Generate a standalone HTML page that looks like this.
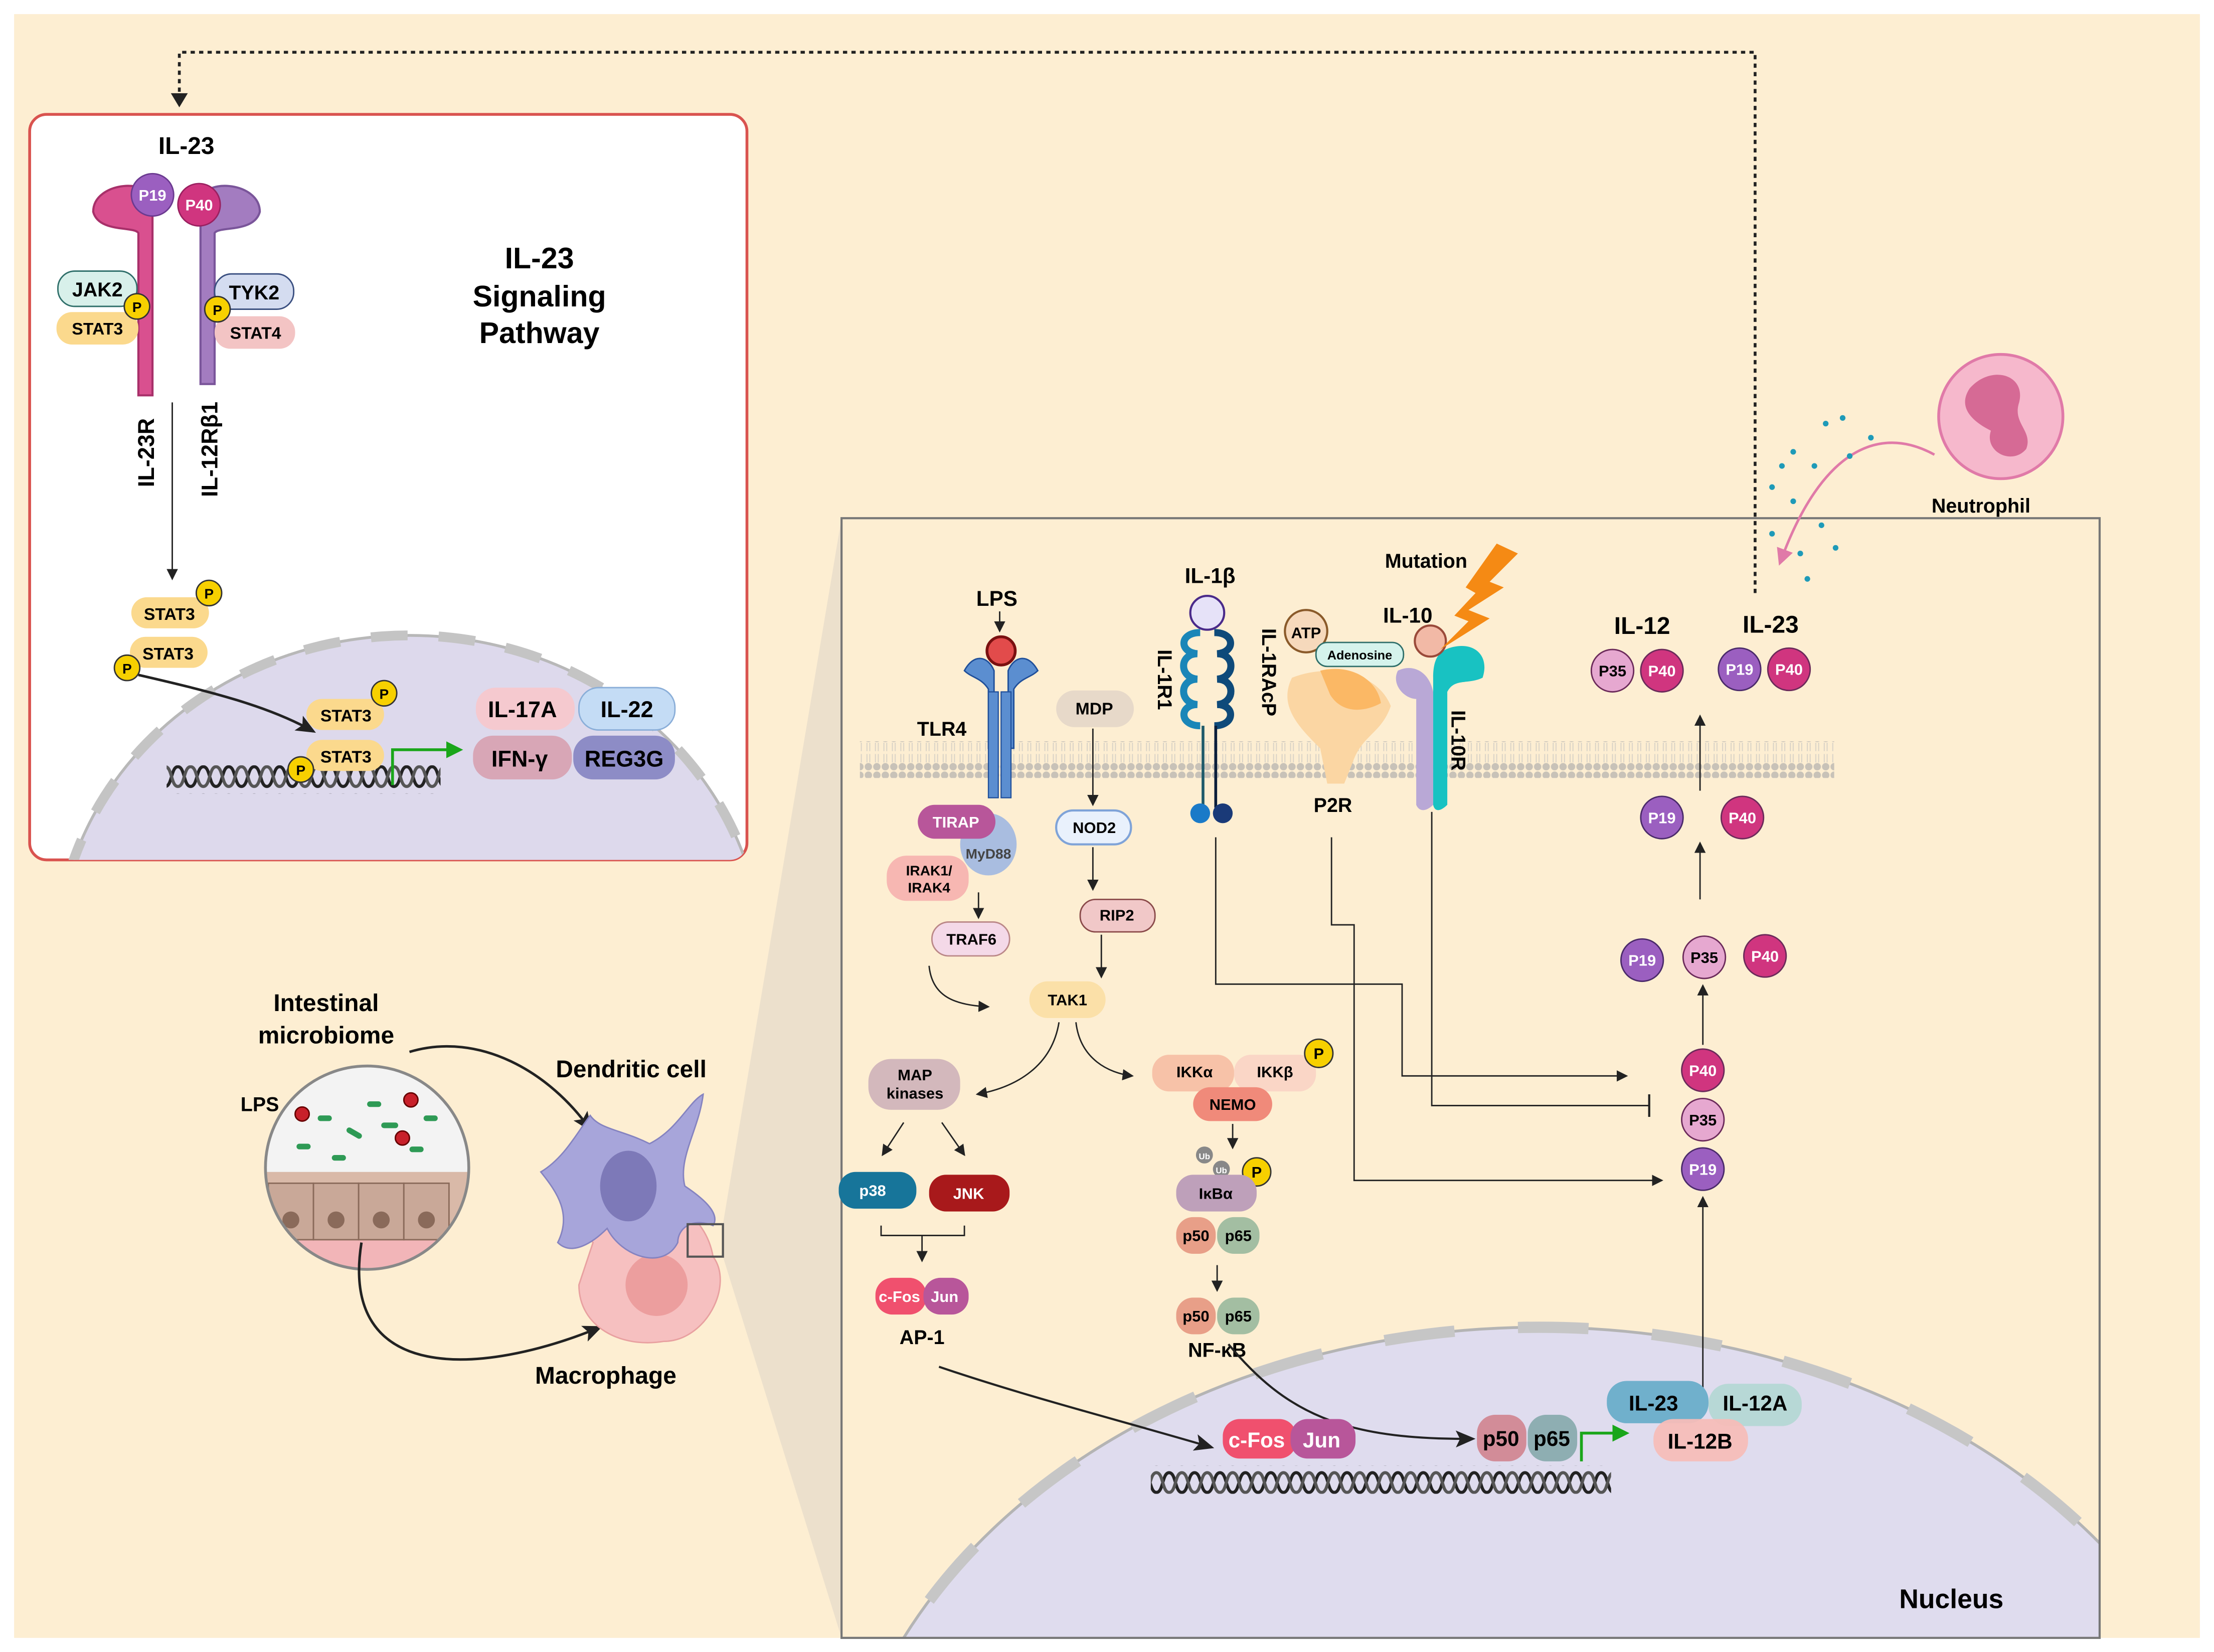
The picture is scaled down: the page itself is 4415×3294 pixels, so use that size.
<!DOCTYPE html>
<html><head><meta charset="utf-8"><style>
html,body{margin:0;padding:0;background:#fff;overflow:hidden;width:4415px;height:3294px;position:relative}
svg{display:block;position:absolute;left:0;top:0}
text{font-family:"Liberation Sans",sans-serif;font-weight:bold}
</style></head><body>
<svg width="4415" height="3294" viewBox="0 0 1568 1170" preserveAspectRatio="none" xmlns="http://www.w3.org/2000/svg" overflow="hidden">
<defs>
<pattern id="dna" width="18" height="20" patternUnits="userSpaceOnUse">
<path d="M0,3 C5,3 4,17 9,17 C14,17 13,3 18,3" fill="none" stroke="#222" stroke-width="2.2"/>
<path d="M0,17 C5,17 4,3 9,3 C14,3 13,17 18,17" fill="none" stroke="#555" stroke-width="2.2"/>
</pattern>
<pattern id="mem" width="6" height="26" patternUnits="userSpaceOnUse">
<circle cx="3" cy="3" r="2.6" fill="#c8c2b8"/><circle cx="3" cy="23" r="2.6" fill="#c8c2b8"/>
<path d="M2,6 L2,12 M4,6 L4,12 M2,14 L2,20 M4,14 L4,20" stroke="#d8d2c6" stroke-width="0.7"/>
</pattern>
<marker id="ah" markerWidth="8" markerHeight="8" refX="7" refY="4" orient="auto" markerUnits="userSpaceOnUse"><path d="M0,0 L8,4 L0,8z" fill="#222"/></marker>
<marker id="ahb" markerWidth="14" markerHeight="12" refX="12" refY="6" orient="auto" markerUnits="userSpaceOnUse"><path d="M0,0 L14,6 L0,12 L3,6z" fill="#222"/></marker>
<marker id="ahg" markerWidth="12" markerHeight="12" refX="6" refY="6" orient="auto" markerUnits="userSpaceOnUse"><path d="M0,0 L12,6 L0,12z" fill="#1aa61a"/></marker>
<marker id="ahp" markerWidth="12" markerHeight="12" refX="6" refY="6" orient="auto" markerUnits="userSpaceOnUse"><path d="M0,0 L12,6 L0,12z" fill="#e07aa8"/></marker>
<marker id="tbar" markerWidth="4" markerHeight="16" refX="2" refY="8" orient="auto" markerUnits="userSpaceOnUse"><path d="M2,0 L2,16" stroke="#222" stroke-width="1.5"/></marker>
<clipPath id="cTL"><rect x="21" y="81" width="508" height="528" rx="12"/></clipPath>
<clipPath id="cM"><rect x="596" y="367" width="891" height="793"/></clipPath>
<clipPath id="cMicro"><circle cx="260" cy="827" r="72"/></clipPath>
</defs>

<rect width="1568" height="1170" fill="#fff"/>
<rect x="10" y="10" width="1548" height="1150" fill="#fdeed2"/>

<polygon points="512,867 596,367 596,1160 512,890" fill="#ece0cc"/>

<rect x="21" y="81" width="508" height="528" rx="12" fill="#fff" stroke="#d9534f" stroke-width="2"/>
<g clip-path="url(#cTL)">
<ellipse cx="290" cy="680" rx="250" ry="230" fill="#ddd9ec" stroke="#b8b8b8" stroke-width="2"/>
<ellipse cx="290" cy="680" rx="250" ry="230" fill="none" stroke="#c4c4c4" stroke-width="7" stroke-dasharray="26,22"/>
<rect x="118" y="542" width="194" height="20" fill="url(#dna)"/>
</g>
<text x="132" y="109" font-size="17" text-anchor="middle">IL-23</text>
<text x="382" y="190" font-size="21" text-anchor="middle">IL-23</text>
<text x="382" y="217" font-size="21" text-anchor="middle">Signaling</text>
<text x="382" y="243" font-size="21" text-anchor="middle">Pathway</text>
<path d="M66,150 C66,128 110,125 108,145 L108,280 L98,280 L98,165 C95,160 70,165 66,150z" fill="#d9508f" stroke="#a8306a" stroke-width="1.5"/>
<path d="M184,150 C184,128 140,125 142,145 L142,272 L152,272 L152,165 C155,160 180,165 184,150z" fill="#a37cc0" stroke="#7a559a" stroke-width="1.5"/>
<circle cx="108" cy="138" r="15" fill="#9b5fc0" stroke="#6b3a90"/><text x="108" y="142" font-size="11" fill="#fff" text-anchor="middle" font-weight="normal">P19</text>
<circle cx="141" cy="145" r="15" fill="#d0357f" stroke="#9a2060"/><text x="141" y="149" font-size="11" fill="#fff" text-anchor="middle" font-weight="normal">P40</text>
<rect x="41" y="192" width="56" height="25" rx="12" fill="#d8f0ea" stroke="#2f6f6a"/><text x="69" y="210" font-size="14" text-anchor="middle" font-weight="normal">JAK2</text>
<rect x="40" y="221" width="58" height="23" rx="11" fill="#fbd98d"/><text x="69" y="237" font-size="12" text-anchor="middle">STAT3</text>
<circle cx="97" cy="217" r="9" fill="#f7d000" stroke="#333"/><text x="97" y="221" font-size="10" text-anchor="middle">P</text>
<rect x="152" y="194" width="56" height="25" rx="12" fill="#d4dcf0" stroke="#3a4f80"/><text x="180" y="212" font-size="14" text-anchor="middle" font-weight="normal">TYK2</text>
<rect x="152" y="224" width="57" height="23" rx="11" fill="#f3c4c4"/><text x="181" y="240" font-size="12" text-anchor="middle">STAT4</text>
<circle cx="154" cy="219" r="9" fill="#f7d000" stroke="#333"/><text x="154" y="223" font-size="10" text-anchor="middle">P</text>
<text transform="translate(109,345) rotate(-90)" font-size="16" font-weight="normal">IL-23R</text>
<text transform="translate(154,352) rotate(-90)" font-size="16" font-weight="normal">IL-12Rβ1</text>
<line x1="122" y1="285" x2="122" y2="410" stroke="#222" stroke-width="1" marker-end="url(#ah)"/>
<rect x="93" y="423" width="55" height="22" rx="11" fill="#fbd98d"/><text x="120" y="439" font-size="12" text-anchor="middle">STAT3</text>
<circle cx="148" cy="420" r="9" fill="#f7d000" stroke="#333"/><text x="148" y="424" font-size="10" text-anchor="middle">P</text>
<rect x="92" y="451" width="55" height="22" rx="11" fill="#fbd98d"/><text x="119" y="467" font-size="12" text-anchor="middle">STAT3</text>
<circle cx="90" cy="473" r="9" fill="#f7d000" stroke="#333"/><text x="90" y="477" font-size="10" text-anchor="middle">P</text>
<path d="M98,478 C150,490 190,500 222,518" fill="none" stroke="#222" stroke-width="1.8" marker-end="url(#ahb)"/>
<rect x="217" y="495" width="55" height="22" rx="11" fill="#fbd98d"/><text x="245" y="511" font-size="12" text-anchor="middle">STAT3</text>
<circle cx="272" cy="491" r="9" fill="#f7d000" stroke="#333"/><text x="272" y="495" font-size="10" text-anchor="middle">P</text>
<rect x="217" y="524" width="55" height="22" rx="11" fill="#fbd98d"/><text x="245" y="540" font-size="12" text-anchor="middle">STAT3</text>
<circle cx="213" cy="545" r="9" fill="#f7d000" stroke="#333"/><text x="213" y="549" font-size="10" text-anchor="middle">P</text>
<path d="M278,556 L278,531 L322,531" fill="none" stroke="#1aa61a" stroke-width="2" marker-end="url(#ahg)"/>
<rect x="337" y="487" width="70" height="30" rx="14" fill="#f5c9cf"/><text x="370" y="508" font-size="16" text-anchor="middle">IL-17A</text>
<rect x="410" y="487" width="68" height="30" rx="14" fill="#c4dcf5" stroke="#8aaed8"/><text x="444" y="508" font-size="16" text-anchor="middle">IL-22</text>
<rect x="335" y="521" width="70" height="31" rx="14" fill="#d8a6b6"/><text x="368" y="543" font-size="16" text-anchor="middle">IFN-γ</text>
<rect x="406" y="521" width="72" height="31" rx="14" fill="#8d8cc6"/><text x="442" y="543" font-size="16" text-anchor="middle">REG3G</text>

<text x="231" y="716" font-size="17" text-anchor="middle">Intestinal</text>
<text x="231" y="739" font-size="17" text-anchor="middle">microbiome</text>
<text x="184" y="787" font-size="14" text-anchor="middle">LPS</text>
<g clip-path="url(#cMicro)">
<circle cx="260" cy="827" r="72" fill="#f3f3f3"/>
<rect x="180" y="830" width="160" height="60" fill="#d9b9a8"/>
<rect x="180" y="878" width="160" height="30" fill="#f2b5b8"/>
<g fill="#c9a898" stroke="#8a6a5a" stroke-width="1"><rect x="190" y="838" width="32" height="40"/><rect x="222" y="838" width="32" height="40"/><rect x="254" y="838" width="32" height="40"/><rect x="286" y="838" width="32" height="40"/></g>
<g fill="#8a6a5a"><circle cx="206" cy="864" r="6"/><circle cx="238" cy="864" r="6"/><circle cx="270" cy="864" r="6"/><circle cx="302" cy="864" r="6"/></g>
<g fill="#2e9a55"><rect x="225" y="790" width="10" height="4" rx="2"/><rect x="245" y="800" width="12" height="4" rx="2" transform="rotate(30 250 802)"/><rect x="270" y="795" width="12" height="4" rx="2"/><rect x="210" y="810" width="10" height="4" rx="2"/><rect x="290" y="812" width="10" height="4" rx="2"/><rect x="260" y="780" width="10" height="4" rx="2"/><rect x="300" y="790" width="10" height="4" rx="2"/><rect x="235" y="818" width="10" height="4" rx="2"/></g>
</g>
<circle cx="260" cy="827" r="72" fill="none" stroke="#888" stroke-width="2"/>
<g fill="#c8202a" stroke="#600"><circle cx="214" cy="789" r="5"/><circle cx="291" cy="779" r="5"/><circle cx="285" cy="806" r="5"/></g>
<path d="M290,745 C340,730 390,760 418,800" fill="none" stroke="#222" stroke-width="1.8" marker-end="url(#ahb)"/>
<path d="M256,880 C240,980 340,975 425,940" fill="none" stroke="#222" stroke-width="1.8" marker-end="url(#ahb)"/>
<text x="447" y="763" font-size="17" text-anchor="middle">Dendritic cell</text>
<text x="429" y="980" font-size="17" text-anchor="middle">Macrophage</text>
<path d="M420,880 C400,860 410,840 440,850 C470,840 500,860 505,890 C520,910 500,950 470,950 C440,955 410,940 410,910z" fill="#f6c0c0" stroke="#e8a0a0"/>
<circle cx="465" cy="910" r="22" fill="#ec9e9e"/>
<path d="M383,830 C400,820 410,800 418,790 C425,800 440,800 460,810 C480,800 488,780 498,775 C495,800 480,820 485,840 C500,850 510,860 505,868 C490,862 480,870 480,880 C470,900 440,890 430,870 C420,880 405,890 395,880 C405,860 395,845 383,830z" fill="#a7a5da" stroke="#8583c0"/>
<ellipse cx="445" cy="840" rx="20" ry="25" fill="#7d79b8"/>
<rect x="487" y="867" width="25" height="23" fill="none" stroke="#555" stroke-width="1.5"/>

<rect x="596" y="367" width="891" height="793" fill="#fdeed2"/>
<g clip-path="url(#cM)">
<ellipse cx="1090" cy="1330" rx="500" ry="390" fill="#dfdcee" stroke="#b4b4b4" stroke-width="2"/>
<ellipse cx="1090" cy="1330" rx="500" ry="390" fill="none" stroke="#c6c6c6" stroke-width="8" stroke-dasharray="50,45"/>
<rect x="815" y="1038" width="326" height="20" fill="url(#dna)"/>
</g>
<rect x="596" y="367" width="891" height="793" fill="none" stroke="#777" stroke-width="1.5"/>
<text x="1382" y="1139" font-size="19" text-anchor="middle" font-weight="normal">Nucleus</text>

<path d="M1243,420 L1243,37 L127,37 L127,70" fill="none" stroke="#222" stroke-width="2" stroke-dasharray="3,3"/>
<path d="M121,66 L127,76 L133,66z" fill="#222"/>

<circle cx="1417" cy="295" r="44" fill="#f6b8cc" stroke="#e07aa8" stroke-width="2"/>
<path d="M1395,275 C1410,258 1435,265 1430,285 C1425,300 1440,305 1435,318 C1425,330 1405,320 1410,305 C1400,300 1385,290 1395,275z" fill="#d66a95"/>
<text x="1403" y="363" font-size="14" text-anchor="middle">Neutrophil</text>
<path d="M1370,322 C1330,300 1290,320 1262,395" fill="none" stroke="#e07aa8" stroke-width="1.8" marker-end="url(#ahp)"/>
<g fill="#1e9ab8"><circle cx="1293" cy="300" r="2"/><circle cx="1305" cy="296" r="2"/><circle cx="1325" cy="310" r="2"/><circle cx="1270" cy="320" r="2"/><circle cx="1285" cy="330" r="2"/><circle cx="1255" cy="345" r="2"/><circle cx="1270" cy="355" r="2"/><circle cx="1290" cy="372" r="2"/><circle cx="1255" cy="378" r="2"/><circle cx="1275" cy="392" r="2"/><circle cx="1300" cy="388" r="2"/><circle cx="1310" cy="323" r="2"/><circle cx="1280" cy="410" r="2"/><circle cx="1262" cy="330" r="2"/></g>

<rect x="609" y="525" width="690" height="26" fill="url(#mem)"/>

<text x="706" y="429" font-size="15" text-anchor="middle">LPS</text>
<line x1="708" y1="433" x2="708" y2="447" stroke="#222" marker-end="url(#ah)"/>
<path d="M683,475 C690,462 700,465 704,475 L704,530 L700,530 L700,488 C695,480 688,480 683,475z" fill="#5b8ed0" stroke="#1f4f9a"/>
<path d="M735,475 C728,462 718,465 714,475 L714,530 L718,530 L718,488 C723,480 730,480 735,475z" fill="#5b8ed0" stroke="#1f4f9a"/>
<rect x="700" y="490" width="7" height="75" fill="#5b8ed0" stroke="#1f4f9a" stroke-width="0.8"/>
<rect x="709" y="490" width="7" height="75" fill="#5b8ed0" stroke="#1f4f9a" stroke-width="0.8"/>
<circle cx="709" cy="461" r="10" fill="#e24b4b" stroke="#7a1010" stroke-width="2"/>
<text x="667" y="521" font-size="14" text-anchor="middle">TLR4</text>
<ellipse cx="700" cy="598" rx="20" ry="22" fill="#a9bde0"/>
<rect x="650" y="570" width="55" height="24" rx="12" fill="#b8569a"/><text x="677" y="586" font-size="11" fill="#fff" text-anchor="middle">TIRAP</text>
<text x="700" y="608" font-size="10" fill="#444" text-anchor="middle">MyD88</text>
<rect x="628" y="606" width="58" height="32" rx="14" fill="#f7b7b2"/><text x="658" y="620" font-size="10" text-anchor="middle">IRAK1/</text><text x="658" y="632" font-size="10" text-anchor="middle">IRAK4</text>
<line x1="693" y1="632" x2="693" y2="650" stroke="#222" marker-end="url(#ah)"/>
<rect x="660" y="653" width="55" height="24" rx="12" fill="#f4d9e8" stroke="#b88"/><text x="688" y="669" font-size="11" text-anchor="middle">TRAF6</text>
<path d="M658,684 C660,705 675,712 700,713" fill="none" stroke="#222" marker-end="url(#ah)"/>
<rect x="748" y="489" width="55" height="26" rx="13" fill="#e7d9c9"/><text x="775" y="506" font-size="12" text-anchor="middle">MDP</text>
<line x1="774" y1="516" x2="774" y2="570" stroke="#222" marker-end="url(#ah)"/>
<rect x="748" y="574" width="53" height="24" rx="12" fill="#e9f1fc" stroke="#7fa3d8" stroke-width="1.5"/><text x="775" y="590" font-size="11" text-anchor="middle">NOD2</text>
<line x1="774" y1="600" x2="774" y2="630" stroke="#222" marker-end="url(#ah)"/>
<rect x="765" y="637" width="53" height="23" rx="11" fill="#f1c8c8" stroke="#8a4a4a"/><text x="791" y="652" font-size="11" text-anchor="middle">RIP2</text>
<line x1="780" y1="662" x2="780" y2="692" stroke="#222" marker-end="url(#ah)"/>
<rect x="729" y="695" width="54" height="26" rx="13" fill="#fbe0a8"/><text x="756" y="712" font-size="11" text-anchor="middle">TAK1</text>
<path d="M750,724 C745,755 720,770 692,775" fill="none" stroke="#222" marker-end="url(#ah)"/>
<path d="M762,724 C765,750 785,760 802,762" fill="none" stroke="#222" marker-end="url(#ah)"/>
<rect x="615" y="750" width="65" height="36" rx="16" fill="#d3b8bc"/><text x="648" y="765" font-size="11" text-anchor="middle">MAP</text><text x="648" y="778" font-size="11" text-anchor="middle">kinases</text>
<line x1="640" y1="795" x2="625" y2="818" stroke="#222" marker-end="url(#ah)"/>
<line x1="667" y1="795" x2="683" y2="818" stroke="#222" marker-end="url(#ah)"/>
<rect x="594" y="830" width="55" height="26" rx="12" fill="#17759a"/><text x="618" y="847" font-size="11" fill="#fff" text-anchor="middle">p38</text>
<rect x="658" y="832" width="57" height="26" rx="12" fill="#a8191b"/><text x="686" y="849" font-size="11" fill="#fff" text-anchor="middle">JNK</text>
<path d="M624,868 L624,875 L683,875 L683,868 M653,875 L653,893" fill="none" stroke="#222" marker-end="url(#ah)"/>
<rect x="620" y="905" width="36" height="26" rx="12" fill="#f0506e"/><text x="637" y="922" font-size="11" fill="#fff" text-anchor="middle">c-Fos</text>
<rect x="654" y="905" width="32" height="26" rx="12" fill="#b8569a"/><text x="669" y="922" font-size="11" fill="#fff" text-anchor="middle">Jun</text>
<text x="653" y="952" font-size="14" text-anchor="middle">AP-1</text>
<path d="M665,968 C730,990 790,1005 858,1025" fill="none" stroke="#222" stroke-width="1.5" marker-end="url(#ahb)"/>
<rect x="816" y="747" width="58" height="26" rx="12" fill="#f7c2a8"/><text x="846" y="763" font-size="11" text-anchor="middle">IKKα</text>
<rect x="874" y="747" width="58" height="26" rx="12" fill="#fad6c6"/><text x="903" y="763" font-size="11" text-anchor="middle">IKKβ</text>
<circle cx="934" cy="746" r="10" fill="#f7d000" stroke="#333"/><text x="934" y="750" font-size="11" text-anchor="middle">P</text>
<rect x="845" y="770" width="56" height="24" rx="12" fill="#f08a7a"/><text x="873" y="786" font-size="11" text-anchor="middle">NEMO</text>
<line x1="873" y1="796" x2="873" y2="813" stroke="#222" marker-end="url(#ah)"/>
<circle cx="853" cy="818" r="6" fill="#888"/><text x="853" y="821" font-size="6" fill="#fff" text-anchor="middle">Ub</text>
<circle cx="865" cy="828" r="6" fill="#888"/><text x="865" y="831" font-size="6" fill="#fff" text-anchor="middle">Ub</text>
<circle cx="890" cy="830" r="10" fill="#f7d000" stroke="#333"/><text x="890" y="834" font-size="11" text-anchor="middle">P</text>
<rect x="833" y="832" width="57" height="26" rx="12" fill="#bea0ba"/><text x="861" y="849" font-size="11" text-anchor="middle">IκBα</text>
<rect x="833" y="862" width="28" height="26" rx="12" fill="#e89f88"/><text x="847" y="879" font-size="11" text-anchor="middle">p50</text>
<rect x="862" y="862" width="30" height="26" rx="12" fill="#a3bea2"/><text x="877" y="879" font-size="11" text-anchor="middle">p65</text>
<line x1="862" y1="896" x2="862" y2="914" stroke="#222" marker-end="url(#ah)"/>
<rect x="833" y="919" width="28" height="26" rx="12" fill="#e89f88"/><text x="847" y="936" font-size="11" text-anchor="middle">p50</text>
<rect x="862" y="919" width="30" height="26" rx="12" fill="#a3bea2"/><text x="877" y="936" font-size="11" text-anchor="middle">p65</text>
<text x="862" y="961" font-size="14" text-anchor="middle">NF-κB</text>
<path d="M870,952 C910,1000 950,1020 1043,1019" fill="none" stroke="#222" stroke-width="1.5" marker-end="url(#ahb)"/>
<text x="857" y="413" font-size="15" text-anchor="middle">IL-1β</text>
<ellipse cx="855" cy="434" rx="12" ry="12" fill="#e6e2f8" stroke="#4a2a8a" stroke-width="1.5"/>
<path d="M850,448 C835,448 835,462 848,463 C835,463 835,480 848,481 C835,481 835,498 848,499 C835,499 835,514 850,514" fill="none" stroke="#1a86b8" stroke-width="5"/>
<path d="M860,448 C875,448 875,462 862,463 C875,463 875,480 862,481 C875,481 875,498 862,499 C875,499 875,514 860,514" fill="none" stroke="#0e4a7a" stroke-width="5"/>
<line x1="852" y1="514" x2="852" y2="572" stroke="#1e5a6a" stroke-width="2"/>
<line x1="861" y1="514" x2="861" y2="572" stroke="#0b1e3a" stroke-width="2"/>
<circle cx="850" cy="576" r="7" fill="#1a7ac8"/><circle cx="866" cy="576" r="7" fill="#1a3a78"/>
<text transform="translate(820,460) rotate(90)" font-size="14">IL-1R1</text>
<text transform="translate(894,445) rotate(90)" font-size="14">IL-1RAcP</text>
<path d="M915,480 C940,470 975,475 985,500 C978,520 965,520 958,540 L952,555 L940,555 L935,530 C920,515 905,500 915,480z" fill="#fbd6a3"/>
<path d="M935,475 C955,470 975,480 978,498 C965,505 950,505 942,492z" fill="#fbb865"/>
<circle cx="925" cy="447" r="15" fill="#f6d9bc" stroke="#8a5a2a" stroke-width="1.5"/><text x="925" y="452" font-size="11" text-anchor="middle">ATP</text>
<rect x="932" y="455" width="62" height="17" rx="8" fill="#d5f3ec" stroke="#2f6f6a"/><text x="963" y="467" font-size="9" text-anchor="middle">Adenosine</text>
<text x="944" y="575" font-size="14" text-anchor="middle">P2R</text>
<path d="M990,475 C1000,470 1012,475 1015,490 L1015,570 C1010,575 1005,575 1003,570 L1003,495 C995,495 985,485 990,475z" fill="#b9a8d6"/>
<path d="M1030,458 C1045,455 1055,465 1050,480 C1040,485 1030,480 1025,490 L1025,570 C1020,575 1016,575 1015,570 L1015,480 C1015,465 1020,460 1030,458z" fill="#18c2c2"/>
<circle cx="1013" cy="454" r="11" fill="#f2b9a6" stroke="#9a4a3a" stroke-width="1.5"/>
<text x="997" y="441" font-size="15" text-anchor="middle">IL-10</text>
<text x="1010" y="402" font-size="14" text-anchor="middle">Mutation</text>
<path d="M1060,385 L1075,392 L1055,412 L1065,416 L1040,432 L1055,438 L1020,460 L1040,440 L1030,436 L1045,420 L1038,416z" fill="#f58a14"/>
<text transform="translate(1028,503) rotate(90)" font-size="14">IL-10R</text>
<path d="M861,593 L861,697 L993,697 L993,762 L1152,762" fill="none" stroke="#222" stroke-width="1" marker-end="url(#ah)"/>
<path d="M1014,575 L1014,783 L1168,783" fill="none" stroke="#222" stroke-width="1" marker-end="url(#tbar)"/>
<path d="M943,593 L943,655 L959,655 L959,836 L1177,836" fill="none" stroke="#222" stroke-width="1" marker-end="url(#ah)"/>
<text x="1163" y="449" font-size="17" text-anchor="middle">IL-12</text>
<text x="1254" y="448" font-size="17" text-anchor="middle">IL-23</text>
<circle cx="1142" cy="475" r="15" fill="#e6a8d0" stroke="#6b2a5a"/><text x="1142" y="479" font-size="11" text-anchor="middle">P35</text>
<circle cx="1177" cy="475" r="15" fill="#d0357f" stroke="#6b2a5a"/><text x="1177" y="479" font-size="11" fill="#fff" text-anchor="middle">P40</text>
<circle cx="1232" cy="474" r="15" fill="#9b5fc0" stroke="#4a2a6a"/><text x="1232" y="478" font-size="11" fill="#fff" text-anchor="middle">P19</text>
<circle cx="1267" cy="474" r="15" fill="#d0357f" stroke="#6b2a5a"/><text x="1267" y="478" font-size="11" fill="#fff" text-anchor="middle">P40</text>
<line x1="1204" y1="560" x2="1204" y2="507" stroke="#222" marker-end="url(#ah)"/>
<circle cx="1177" cy="579" r="15" fill="#9b5fc0" stroke="#4a2a6a"/><text x="1177" y="583" font-size="11" fill="#fff" text-anchor="middle">P19</text>
<circle cx="1234" cy="579" r="15" fill="#d0357f" stroke="#6b2a5a"/><text x="1234" y="583" font-size="11" fill="#fff" text-anchor="middle">P40</text>
<line x1="1204" y1="637" x2="1204" y2="597" stroke="#222" marker-end="url(#ah)"/>
<circle cx="1163" cy="680" r="15" fill="#9b5fc0" stroke="#4a2a6a"/><text x="1163" y="684" font-size="11" fill="#fff" text-anchor="middle">P19</text>
<circle cx="1207" cy="678" r="15" fill="#e6a8d0" stroke="#6b2a5a"/><text x="1207" y="682" font-size="11" text-anchor="middle">P35</text>
<circle cx="1250" cy="677" r="15" fill="#d0357f" stroke="#6b2a5a"/><text x="1250" y="681" font-size="11" fill="#fff" text-anchor="middle">P40</text>
<line x1="1206" y1="740" x2="1206" y2="698" stroke="#222" marker-end="url(#ah)"/>
<circle cx="1206" cy="758" r="15" fill="#d0357f" stroke="#6b2a5a"/><text x="1206" y="762" font-size="11" fill="#fff" text-anchor="middle">P40</text>
<circle cx="1206" cy="793" r="15" fill="#e6a8d0" stroke="#6b2a5a"/><text x="1206" y="797" font-size="11" text-anchor="middle">P35</text>
<circle cx="1206" cy="828" r="15" fill="#9b5fc0" stroke="#4a2a6a"/><text x="1206" y="832" font-size="11" fill="#fff" text-anchor="middle">P19</text>
<line x1="1206" y1="985" x2="1206" y2="848" stroke="#222" marker-end="url(#ah)"/>
<rect x="866" y="1005" width="52" height="28" rx="12" fill="#f0506e"/><text x="890" y="1025" font-size="15" fill="#fff" text-anchor="middle">c-Fos</text>
<rect x="914" y="1005" width="46" height="28" rx="12" fill="#b8569a"/><text x="936" y="1025" font-size="15" fill="#fff" text-anchor="middle">Jun</text>
<rect x="1046" y="1002" width="35" height="33" rx="13" fill="#d28c98"/><text x="1063" y="1024" font-size="15" text-anchor="middle">p50</text>
<rect x="1082" y="1002" width="35" height="33" rx="13" fill="#8eaeb2"/><text x="1099" y="1024" font-size="15" text-anchor="middle">p65</text>
<path d="M1120,1035 L1120,1015 L1148,1015" fill="none" stroke="#1aa61a" stroke-width="2" marker-end="url(#ahg)"/>
<rect x="1138" y="978" width="72" height="30" rx="14" fill="#70b0cc"/><text x="1171" y="999" font-size="15" text-anchor="middle">IL-23</text>
<rect x="1210" y="980" width="66" height="30" rx="14" fill="#b3d7d3" opacity="0.9"/><text x="1243" y="999" font-size="15" text-anchor="middle">IL-12A</text>
<rect x="1171" y="1005" width="67" height="30" rx="14" fill="#f5bdb8" opacity="0.95"/><text x="1204" y="1026" font-size="15" text-anchor="middle">IL-12B</text>
</svg>
</body></html>
